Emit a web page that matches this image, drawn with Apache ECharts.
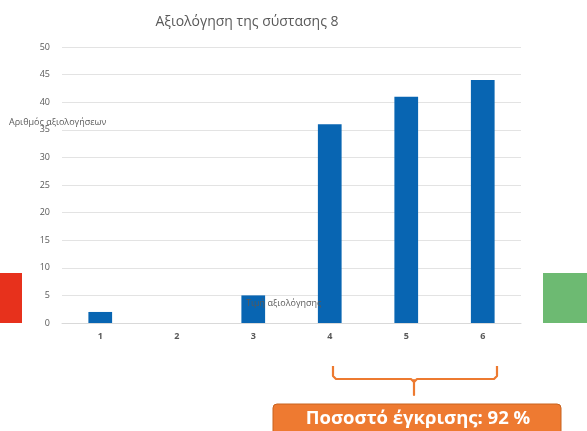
<!DOCTYPE html>
<html>
<head>
<meta charset="utf-8">
<script src="https://cdn.jsdelivr.net/npm/echarts@6/dist/echarts.min.js"></script>
<style>
  html, body { margin: 0; padding: 0; background: #fff; }
  #chart { width: 587px; height: 431px; }
</style>
</head>
<body>
<div id="chart"></div>
<script>
// Rating values (1..6) and how many ratings each received
const categories = ['1', '2', '3', '4', '5', '6'];
const counts = [2, 0, 5, 36, 41, 44];
const yTicks = { min: 0, max: 50, interval: 5 };
const titleText = 'Αξιολόγηση της σύστασης 8';
const yName = 'Αριθμός αξιολογήσεων';
const xName = 'Τιμή αξιολόγησης';
const approvalText = 'Ποσοστό έγκρισης: 92 %';

const FONT = '"Open Sans", "Noto Sans", sans-serif';
const GREY = '#595959';

const chart = echarts.init(document.getElementById('chart'), null, { renderer: 'canvas' });

chart.setOption({
  animation: false,
  backgroundColor: '#ffffff',
  title: {
    text: titleText,
    left: 242,
    textAlign: 'center',
    top: 10,
    textStyle: { fontFamily: FONT, fontSize: 14, fontWeight: 'normal', color: GREY }
  },
  grid: { left: 62, right: 66, top: 47, bottom: 108, containLabel: false },
  xAxis: {
    type: 'category',
    data: categories,
    axisLine: { show: true, lineStyle: { color: '#d9d9d9', width: 1 } },
    axisTick: { show: false },
    axisLabel: { fontFamily: FONT, fontSize: 9, fontWeight: 'bold', color: GREY, margin: 9 }
  },
  yAxis: {
    type: 'value',
    min: yTicks.min,
    max: yTicks.max,
    interval: yTicks.interval,
    axisLine: { show: false },
    axisTick: { show: false },
    splitLine: { lineStyle: { color: '#e3e3e3', width: 1 } },
    axisLabel: { fontFamily: FONT, fontSize: 9, color: GREY, margin: 12 }
  },
  series: [{
    type: 'bar',
    data: counts,
    barWidth: '31%',
    itemStyle: { color: '#0865b2' }
  }],
  graphic: [
    // axis titles
    { type: 'text', left: 9, top: 118, z: 10,
      style: { text: yName, fontFamily: FONT, fontSize: 9, fill: GREY } },
    { type: 'text', left: 246, top: 299, z: 10,
      style: { text: xName, fontFamily: FONT, fontSize: 9, fill: GREY } },
    // disapproval / approval side markers
    { type: 'rect', shape: { x: 0, y: 273, width: 22, height: 50 },
      style: { fill: '#e7311c' } },
    { type: 'rect', shape: { x: 543, y: 273, width: 44, height: 50 },
      style: { fill: '#6dba72' } },
    // bracket over ratings 4–6
    { type: 'polyline', z: 10,
      shape: { points: [[333, 366], [333, 376], [336, 379], [411, 379], [414, 382], [417, 379], [494, 379], [497, 376], [497, 366]] },
      style: { stroke: '#ed7a30', lineWidth: 2.2, fill: null, lineJoin: 'round' } },
    { type: 'line', z: 10,
      shape: { x1: 414, y1: 380, x2: 414, y2: 395 },
      style: { stroke: '#ed7a30', lineWidth: 2.2, lineCap: 'round' } },
    // approval box
    { type: 'rect', z: 10,
      shape: { x: 273, y: 404, width: 288, height: 40, r: 4 },
      style: { fill: '#ee7a31', stroke: '#c8621f', lineWidth: 1 } },
    { type: 'text', z: 11, x: 418, y: 419,
      style: { text: approvalText, fontFamily: FONT, fontSize: 18.5, fontWeight: 'bold',
               fill: '#ffffff', align: 'center', verticalAlign: 'middle' } }
  ]
});
</script>
</body>
</html>
